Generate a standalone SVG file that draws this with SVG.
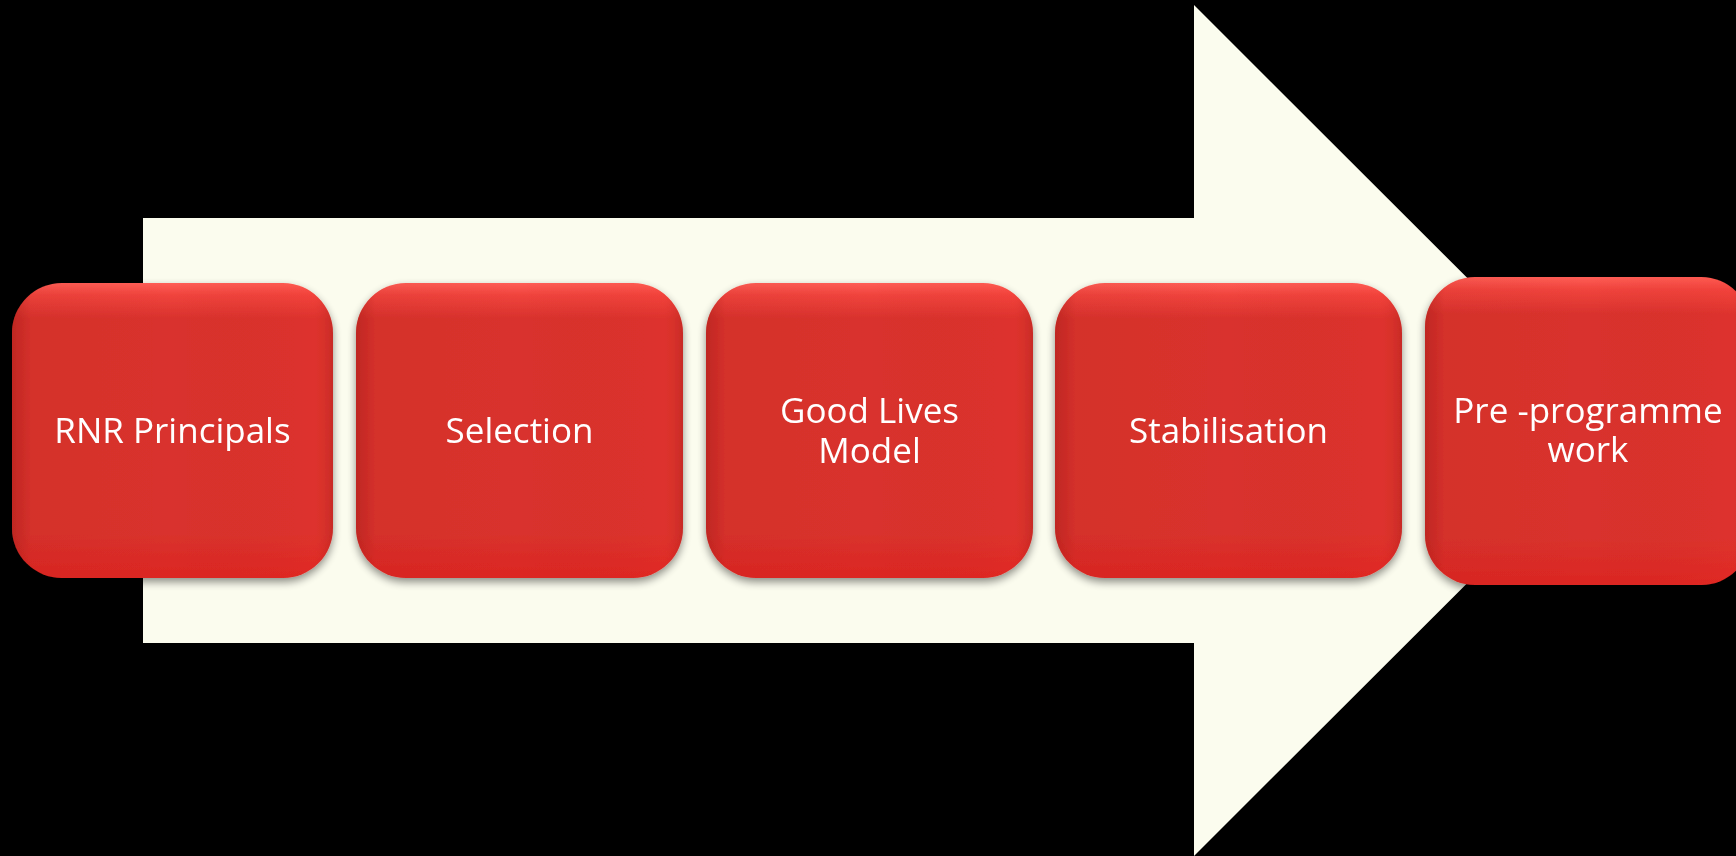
<svg xmlns="http://www.w3.org/2000/svg" width="1736" height="856" viewBox="0 0 1736 856">
  <defs>
    <linearGradient id="gV" x1="0" y1="0" x2="0" y2="1">
      <stop offset="0" stop-color="#ff5e56"/>
      <stop offset="0.04" stop-color="#f0443d"/>
      <stop offset="0.12" stop-color="#d9322d"/>
      <stop offset="0.85" stop-color="#d9322d"/>
      <stop offset="1" stop-color="#dc2622"/>
    </linearGradient>
    <linearGradient id="gH" x1="0" y1="0" x2="1" y2="0">
      <stop offset="0" stop-color="#a01a16" stop-opacity="0.45"/>
      <stop offset="0.06" stop-color="#a01a16" stop-opacity="0.08"/>
      <stop offset="0.5" stop-color="#a01a16" stop-opacity="0"/>
      <stop offset="0.94" stop-color="#ff3a30" stop-opacity="0.12"/>
      <stop offset="1" stop-color="#a01a16" stop-opacity="0.3"/>
    </linearGradient>
    <filter id="sh" x="-10%" y="-10%" width="120%" height="130%">
      <feGaussianBlur in="SourceAlpha" stdDeviation="4"/>
      <feOffset dx="0" dy="4" result="b"/>
      <feComponentTransfer><feFuncA type="linear" slope="0.45"/></feComponentTransfer>
      <feMerge><feMergeNode/><feMergeNode in="SourceGraphic"/></feMerge>
    </filter>
  </defs>
  <style>
    .box { fill: url(#gV); }
    .ov { fill: url(#gH); }
    .lbl { font-family: "Open Sans", "Noto Sans", "DejaVu Sans", sans-serif; font-size: 35px; fill: #ffffff; text-anchor: middle; }
  </style>
  <rect x="0" y="0" width="1736" height="856" fill="#000000"/>
  <g id="arrow">
    <polygon points="143,218 1194,218 1194,5 1620,430.5 1194,856 1194,643 143,643" fill="#fbfcee"/>
  </g>
  <g id="connectors"></g>
  <g id="n1" filter="url(#sh)">
    <rect class="box" x="12" y="283" width="321" height="295" rx="50"/>
    <rect class="ov" x="12" y="283" width="321" height="295" rx="50"/>
    <text class="lbl" x="172.5" y="443">RNR Principals</text>
  </g>
  <g id="n2" filter="url(#sh)">
    <rect class="box" x="356" y="283" width="327" height="295" rx="50"/>
    <rect class="ov" x="356" y="283" width="327" height="295" rx="50"/>
    <text class="lbl" x="519.5" y="443">Selection</text>
  </g>
  <g id="n3" filter="url(#sh)">
    <rect class="box" x="706" y="283" width="327" height="295" rx="50"/>
    <rect class="ov" x="706" y="283" width="327" height="295" rx="50"/>
    <text class="lbl" x="869.5" y="423"><tspan x="869.5" y="423">Good Lives</tspan><tspan x="869.5" y="463">Model</tspan></text>
  </g>
  <g id="n4" filter="url(#sh)">
    <rect class="box" x="1055" y="283" width="347" height="295" rx="50"/>
    <rect class="ov" x="1055" y="283" width="347" height="295" rx="50"/>
    <text class="lbl" x="1228.5" y="443">Stabilisation</text>
  </g>
  <g id="n5" filter="url(#sh)">
    <rect class="box" x="1425" y="277" width="326" height="308" rx="50"/>
    <rect class="ov" x="1425" y="277" width="326" height="308" rx="50"/>
    <text class="lbl" x="1588" y="423"><tspan x="1588" y="423">Pre -programme</tspan><tspan x="1588" y="462">work</tspan></text>
  </g>
</svg>
